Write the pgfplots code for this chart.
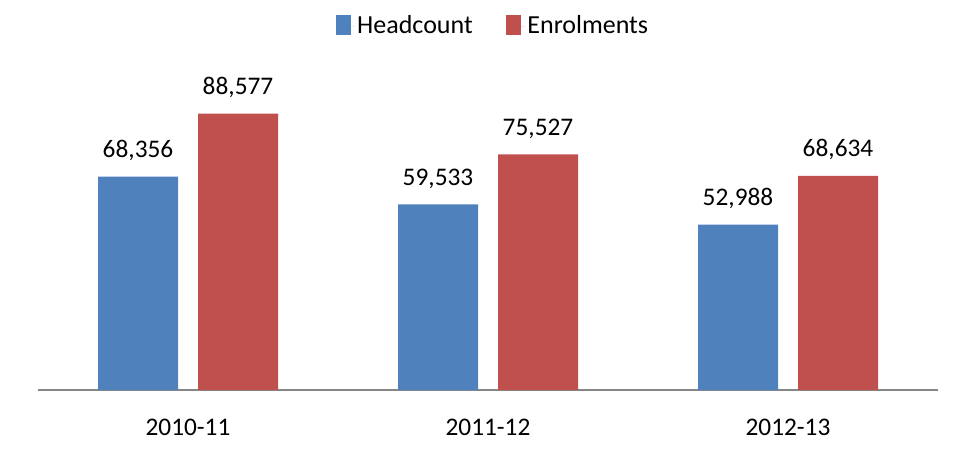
\documentclass[border=0pt]{standalone}
\usepackage{pgfplots}
\pgfplotsset{compat=1.18}
\usepackage{fontspec}
\setmainfont{Carlito}
\definecolor{hcblue}{HTML}{4F81BD}
\definecolor{enred}{HTML}{C0504D}
\definecolor{axgray}{HTML}{868686}
\begin{document}
\fontsize{19pt}{23pt}\selectfont
\begin{tikzpicture}
\path (-28.5pt,-48.75pt) rectangle (689.25pt,292.5pt);
\begin{axis}[
    scale only axis,
    width=675pt, height=234pt,
    at={(0,0)}, anchor=south west,
    ybar, bar width=60pt,
    ymin=0, ymax=100000,
    xmin=-0.5, xmax=2.5,
    xtick={0,1,2},
    xticklabels={2010-11, 2011-12, 2012-13},
    ytick=\empty,
    axis x line*=bottom,
    axis y line=none,
    x axis line style={draw=axgray, line width=0.9pt, -},
    major tick length=0pt,
    xticklabel style={anchor=base, yshift=-33.75pt, font=\fontsize{19pt}{23pt}\selectfont},
    /pgf/number format/assume math mode=true,
    /pgf/number format/1000 sep={,},
    /pgf/number format/fixed,
    nodes near coords,
    nodes near coords style={anchor=base, yshift=14.25pt, font=\fontsize{19pt}{23pt}\selectfont, text=black},
    every axis plot/.append style={draw=none},
    legend columns=2,
    legend style={draw=none, fill=none, at={(axis description cs:0.5,1)}, anchor=center, yshift=38.5pt, xshift=4pt,
        font=\fontsize{19.5pt}{23pt}\selectfont,
        /tikz/every even column/.append style={column sep=23pt}},
    legend image code/.code={\fill[#1] (0pt,-0.33em) rectangle (11.25pt,0.45em); \path (0pt,0pt) -- (14pt,0pt);},
]
\addplot[fill=hcblue, bar shift=-37.5pt] coordinates {(0,68356) (1,59533) (2,52988)};
\addplot[fill=enred, bar shift=37.5pt] coordinates {(0,88577) (1,75527) (2,68634)};
\legend{Headcount, Enrolments}
\end{axis}
\end{tikzpicture}
\end{document}
